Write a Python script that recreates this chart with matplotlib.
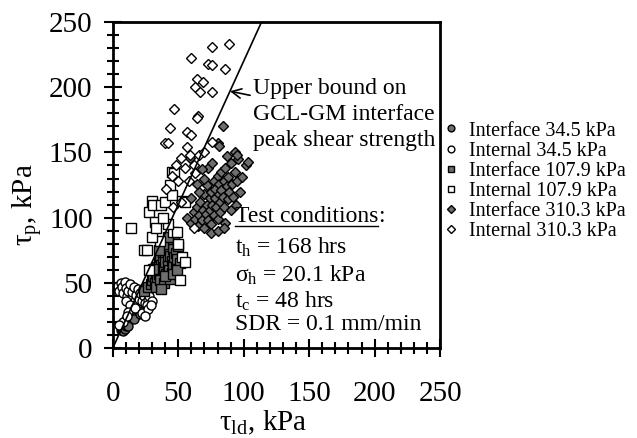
import matplotlib
matplotlib.use("Agg")
from matplotlib import pyplot as plt
import numpy as np

plt.rcParams['font.family'] = ['Liberation Serif', 'DejaVu Serif']
plt.rcParams['mathtext.fontset'] = 'custom'
plt.rcParams['mathtext.rm'] = 'Liberation Serif'
plt.rcParams['mathtext.it'] = 'Liberation Serif'

# interface 34.5 kPa (grey circles)
if345_x = [6, 7, 7, 8, 8, 8, 9, 9, 10, 10, 10, 11, 11, 12, 12, 13, 13, 14, 14, 14, 15, 15, 16, 16,
           17, 17, 18, 18, 19, 19, 20, 20, 21, 22, 23, 24, 12, 16, 21, 25, 26, 18, 15, 20]
if345_y = [14, 15, 17, 13, 16, 18, 15, 19, 17, 20, 22, 18, 21, 20, 24, 22, 26, 23, 25, 28, 24, 27, 26, 29,
           25, 28, 30, 27, 29, 32, 28, 31, 33, 30, 34, 31, 17, 22, 26, 28, 31, 34, 31, 35]
# internal 34.5 kPa (open circles)
in345_x = [4, 5, 6, 7, 8, 9, 10, 11, 12, 13, 14, 15, 16, 17, 18, 19, 20, 21, 22, 24, 25, 27, 28, 30,
           10, 13, 23, 26, 8, 12, 17, 22, 27, 5, 11, 25, 29]
in345_y = [48, 44, 50, 47, 42, 51, 46, 40, 44, 49, 38, 43, 47, 36, 41, 45, 38, 42, 36, 40, 35, 37, 40, 36,
           36, 33, 45, 33, 20, 28, 31, 27, 30, 18, 25, 25, 33]
# interface 107.9 kPa (grey squares)
if1079_x = [24, 27, 29, 30, 31, 32, 33, 34, 34, 35, 35, 36, 36, 37, 37, 38, 38, 39, 39, 40, 40, 41, 41,
            42, 42, 43, 43, 44, 44, 45, 45, 46, 46, 47, 47, 48, 48, 49, 50, 51, 33, 36, 39, 44, 31,
            38, 42, 35, 40, 46, 49, 37]
if1079_y = [44, 47, 49, 52, 55, 50, 58, 53, 62, 57, 66, 60, 70, 55, 64, 68, 74, 59, 62, 72, 66, 78, 57,
            69, 63, 75, 60, 71, 82, 67, 58, 76, 64, 70, 85, 62, 73, 68, 78, 65, 47, 52, 50, 53, 61,
            80, 85, 75, 55, 57, 60, 45]
# internal 107.9 kPa (open squares)
in1079_x = [14, 24, 26, 28, 30, 31, 32, 37, 40, 45, 53, 55, 44, 45, 47, 46, 49, 53, 36, 30, 33, 42,
            50, 55, 28, 51, 38]
in1079_y = [92, 75, 75, 104, 113, 110, 97, 110, 112, 117, 113, 112, 125, 135, 134, 89, 89, 70, 82, 85,
            92, 95, 80, 66, 60, 52, 100]
# interface 310.3 kPa (grey diamonds)
if3103_x = [57, 60, 62, 63, 64, 65, 66, 67, 68, 69, 70, 70, 71, 72, 72, 73, 74, 74, 75, 75, 76, 77, 77,
            78, 78, 79, 80, 80, 81, 81, 82, 82, 83, 83, 84, 85, 85, 86, 86, 87, 88, 88, 89, 90, 90,
            91, 92, 93, 94, 95, 96, 97, 99, 102, 103, 75, 80, 85, 66, 70, 73, 64, 84, 80, 81, 59,
            93, 95, 76, 87, 60, 68]
if3103_y = [100, 96, 104, 99, 108, 94, 102, 112, 98, 106, 118, 92, 103, 110, 125, 98, 115, 106, 120, 95,
            110, 128, 102, 115, 122, 108, 132, 99, 118, 126, 112, 104, 135, 121, 116, 128, 108, 138,
            96, 124, 114, 131, 120, 142, 106, 126, 116, 135, 110, 128, 145, 120, 131, 140, 143, 88,
            90, 92, 120, 130, 138, 126, 170, 157, 155, 146, 150, 148, 142, 147, 115, 137]
# internal 310.3 kPa (open diamonds)
in3103_x = [76, 89, 60, 73, 76, 86, 64, 69, 63, 67, 76, 47, 65, 64, 44, 57, 60, 40, 42, 57, 76, 59,
            66, 70, 52, 48, 55, 62, 45, 50, 41, 58, 63, 52, 46, 62]
in3103_y = [231, 233, 222, 218, 217, 214, 206, 204, 200, 196, 196, 183, 178, 176, 169, 166, 163, 157,
            157, 154, 158, 148, 148, 150, 146, 140, 138, 140, 132, 128, 122, 128, 134, 112, 108, 92]

bound_slope = 2.2

series = [
    (if345_x, if345_y, 'o', '#6e6e6e', 'Interface 34.5 kPa'),
    (in345_x, in345_y, 'o', 'white', 'Internal 34.5 kPa'),
    (if1079_x, if1079_y, 's', '#6e6e6e', 'Interface 107.9 kPa'),
    (in1079_x, in1079_y, 's', 'white', 'Internal 107.9 kPa'),
    (if3103_x, if3103_y, 'D', '#6e6e6e', 'Interface 310.3 kPa'),
    (in3103_x, in3103_y, 'D', 'white', 'Internal 310.3 kPa'),
]

fig = plt.figure(figsize=(6.37, 4.38), dpi=100)
ax = fig.add_axes([0.177, 0.205, 0.514, 0.745])

for x, y, m, c, lab in series:
    ms = 6.5 if m != 'D' else 5
    ax.plot(x, y, linestyle='none', marker=m, markersize=ms, markerfacecolor=c,
            markeredgecolor='black', markeredgewidth=1.0, label=lab)

xl = np.array([0, 250 / bound_slope])
ax.plot(xl, bound_slope * xl, color='black', linewidth=1.2)

ax.set_xlim(0, 250)
ax.set_ylim(0, 250)
ax.set_xticks(np.arange(0, 251, 50))
ax.set_yticks(np.arange(0, 251, 50))
ax.set_xticks(np.arange(0, 251, 10), minor=True)
ax.set_yticks(np.arange(0, 251, 10), minor=True)
ax.tick_params(which='both', direction='inout', width=1.5, labelsize=21)
ax.tick_params(which='major', length=13)
ax.tick_params(which='minor', length=9)
ax.tick_params(axis='x', pad=17)
ax.tick_params(axis='y', pad=8)
for s in ax.spines.values():
    s.set_linewidth(2)

ax.set_xlabel(r'$\mathrm{τ_{ld}}$, kPa', fontsize=21)
ax.set_ylabel(r'$\mathrm{τ_p}$, kPa', fontsize=21)
ax.xaxis.set_label_coords(0.46, -0.185)
ax.yaxis.set_label_coords(-0.21, 0.44)

ax.annotate('Upper bound on\nGCL-GM interface\npeak shear strength',
            xy=(89.5, 89.5 * bound_slope), xytext=(107, 179),
            ha='left', va='center', fontsize=17, linespacing=1.3,
            arrowprops=dict(arrowstyle='->', color='black', lw=1.2,
                            shrinkA=0, shrinkB=0))

t = ax.text(93, 101, 'Test conditions', fontsize=17, ha='left', va='center')
fig.canvas.draw()
bb = t.get_window_extent().transformed(ax.transAxes.inverted())
ax.text(bb.x1, bb.y0 + (bb.y1 - bb.y0) / 2, ':', fontsize=17, ha='left', va='center',
        transform=ax.transAxes)
ax.plot([bb.x0, bb.x1], [bb.y0 + 0.004, bb.y0 + 0.004], color='black', lw=1,
        transform=ax.transAxes, clip_on=False)
ax.text(93, 77, r'$\mathrm{t_h}$ = 168 hrs', fontsize=17, ha='left', va='center')
ax.text(93, 56, r'$\mathrm{σ_h}$ = 20.1 kPa', fontsize=17, ha='left', va='center')
ax.text(93, 36, r'$\mathrm{t_c}$ = 48 hrs', fontsize=17, ha='left', va='center')
ax.text(93, 18, 'SDR = 0.1 mm/min', fontsize=17, ha='left', va='center')

ax.legend(loc='upper left', bbox_to_anchor=(1.015, 0.695), frameon=False, fontsize=14.5,
          handlelength=0.6, handletextpad=0.6, labelspacing=0.05, borderpad=0,
          borderaxespad=0, markerscale=0.75)

fig.savefig('out.png', dpi=100)
